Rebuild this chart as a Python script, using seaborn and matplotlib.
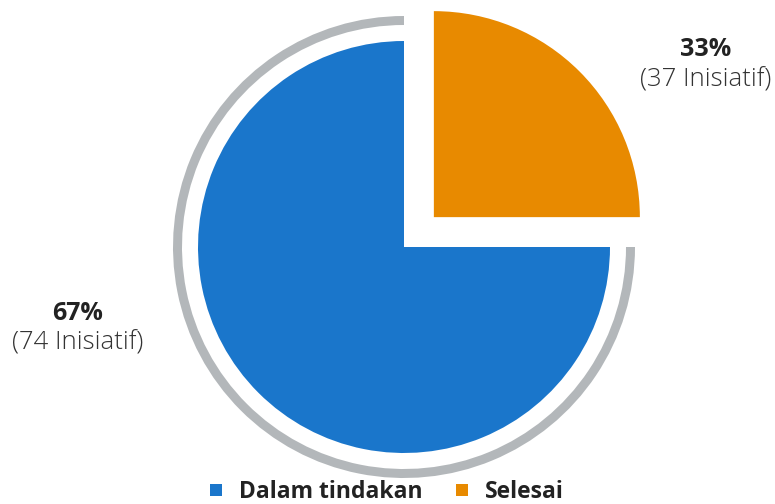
import matplotlib
matplotlib.use("Agg")
import matplotlib.pyplot as plt
from matplotlib.lines import Line2D
import seaborn as sns

# ---- data ----
categories = ["Selesai", "Dalam tindakan"]
slice_share = [25, 75]            # drawn share
initiatives = [37, 74]
percent_labels = ["33%", "67%"]
colors = ["#E88A00", "#1A76CB"]
ring_color = "#B3B7BA"

sns.set_theme(style="white")
plt.rcParams["font.family"] = ["Open Sans", "DejaVu Sans"]

W, H = 775, 504
fig = plt.figure(figsize=(W / 100, H / 100), dpi=100)
ax = fig.add_axes([0, 0, 1, 1])
cx, cy = 404, 247
ax.set_xlim(-cx, W - cx)
ax.set_ylim(-(H - cy), cy)
ax.set_aspect("equal")
ax.axis("off")

R = 206
wedges, _ = ax.pie(slice_share, colors=colors, startangle=90, counterclock=False,
                   explode=[0.205 * R, 0], radius=R, center=(0, 0),
                   wedgeprops=dict(linewidth=0))

# grey ring around the remaining (blue) part
ring_colors = ["none", ring_color]
ax.pie(slice_share, colors=ring_colors, startangle=90, counterclock=False,
       radius=231, center=(0, 0), wedgeprops=dict(width=9, linewidth=0))
ax.set_xlim(-cx, W - cx)
ax.set_ylim(-(H - cy), cy)

# labels
label_pos = [(302, 197), (-326, -66)]
for (x, y), pct, n in zip(label_pos, percent_labels, initiatives):
    ax.text(x, y, pct, ha="center", va="center", fontsize=18, fontweight="bold",
            color="#222222")
    ax.text(x, y - 30, f"({n} Inisiatif)", ha="center", va="center", fontsize=18.5,
            fontweight="light", color="#333333")

# legend (blue first)
handles = [Line2D([0], [0], marker="s", linestyle="none", markersize=9,
                  markerfacecolor=colors[i], markeredgewidth=0) for i in (1, 0)]
leg = fig.legend(handles, [categories[1], categories[0]], loc="lower center",
                 bbox_to_anchor=(0.497, -0.04), ncol=2, frameon=False,
                 prop=dict(weight="bold", size=16.5), labelcolor="#222222",
                 handletextpad=0.6, columnspacing=1.3, handlelength=0.8)

fig.savefig("out.png", dpi=100)
